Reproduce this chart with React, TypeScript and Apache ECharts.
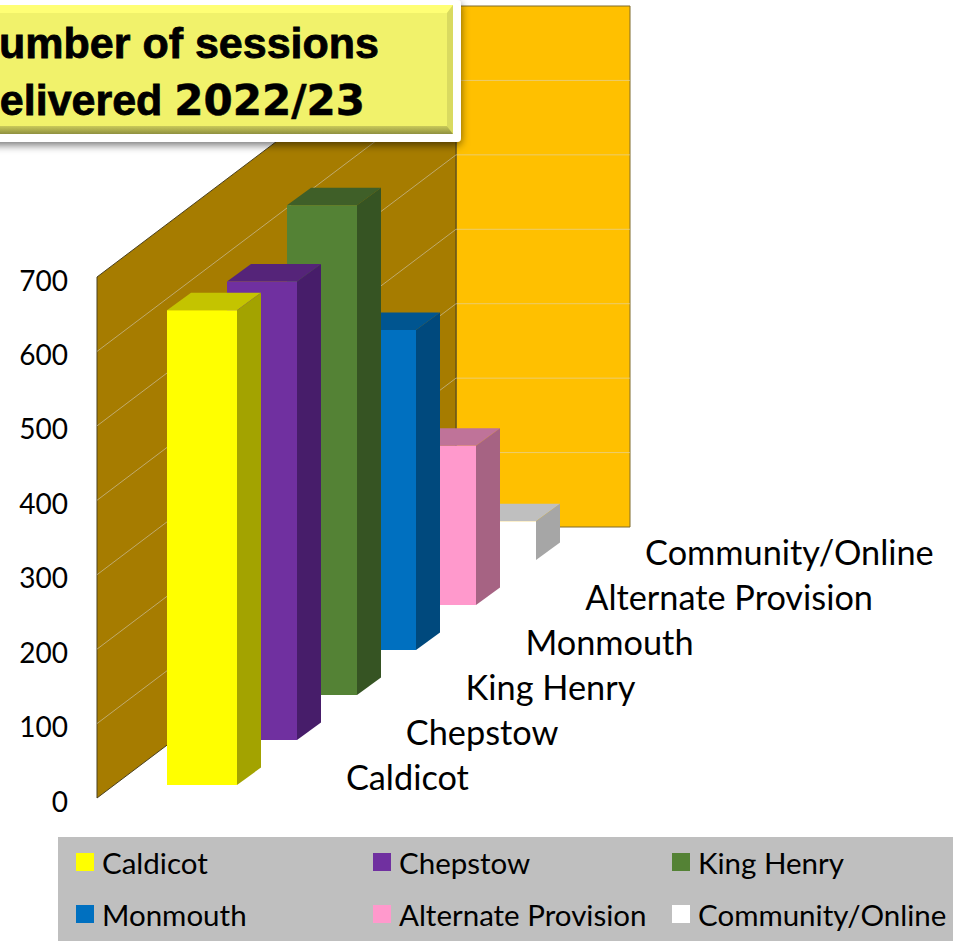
import React, { useEffect, useRef } from "react";
import * as echarts from "echarts";

// Sessions delivered per school, 2022/23
const categories = ["Caldicot", "Chepstow", "King Henry", "Monmouth", "Alternate Provision", "Community/Online"];
const sessions = [638, 616, 658, 430, 214, 52];
const barColors = ["#FFFF00", "#7030A0", "#548235", "#0070C0", "#FF99CC", "#FFFFFF"];
const barTopColors = ["#C4C400", "#552479", "#3F5F28", "#005590", "#BF7399", "#BFBFBF"];
const barSideColors = ["#A3A300", "#471D6A", "#365423", "#00497D", "#A66383", "#A6A6A6"];
const yTicks = [100, 200, 300, 400, 500, 600];
const yMax = 700;
const titleFirstLine = "Number of sessions";
const titleSecondLine = ["delivered", "2022/23"];

// Oblique projection used for the fake 3D box
const WALL_DX = 359;
const WALL_DY = -271;
const STEP_DY = -45;
const BAR_WIDTH = 70;
const DEPTH_DX = 24;
const DEPTH_DY = -17.5;
const BAR_SHIFT_X = 40;
const BAR_SHIFT_Y = -13;
const BACK_WALL_WIDTH = 174;

const FONT = "Lato";
const TITLE_FONT = "Liberation Sans";
const TITLE_DIGIT_FONT = "DejaVu Sans";

function renderWalls(params: any, api: any) {
  const left = params.coordSys.x;
  const y0 = api.coord([0, 0])[1];
  const yTop = api.coord([0, api.value(1)])[1];
  const bx = left + WALL_DX;
  return {
    type: "group",
    children: [
      {
        type: "polygon",
        shape: { points: [[bx, yTop + WALL_DY], [bx + BACK_WALL_WIDTH, yTop + WALL_DY], [bx + BACK_WALL_WIDTH, y0 + WALL_DY], [bx, y0 + WALL_DY]] },
        style: { fill: "#FFC000", stroke: "#7F6A2A", lineWidth: 1 },
      },
      {
        type: "polygon",
        shape: { points: [[left, yTop], [bx, yTop + WALL_DY], [bx, y0 + WALL_DY], [left, y0]] },
        style: { fill: "#A67C00", stroke: "#4A4020", lineWidth: 1 },
      },
    ],
  };
}

function renderGridline(params: any, api: any) {
  const left = params.coordSys.x;
  const y = api.coord([0, api.value(1)])[1];
  const bx = left + WALL_DX;
  return {
    type: "polyline",
    shape: { points: [[left, y], [bx, y + WALL_DY], [bx + BACK_WALL_WIDTH, y + WALL_DY]] },
    style: { fill: "none", stroke: "rgba(217,217,217,0.5)", lineWidth: 1 },
  };
}

function renderBar(index: number) {
  return (params: any, api: any) => {
    const base = api.coord([api.value(0), 0]);
    const top = api.coord([api.value(0), api.value(1)]);
    const x = Math.round(base[0] + BAR_SHIFT_X);
    const dy = BAR_SHIFT_Y + index * STEP_DY;
    const yb = base[1] + dy;
    const yt = top[1] + dy;
    const r = x + BAR_WIDTH;
    return {
      type: "group",
      children: [
        {
          type: "polygon",
          shape: { points: [[x, yt], [r, yt], [r + DEPTH_DX, yt + DEPTH_DY], [x + DEPTH_DX, yt + DEPTH_DY]] },
          style: { fill: barTopColors[index] },
        },
        {
          type: "polygon",
          shape: { points: [[r, yt], [r + DEPTH_DX, yt + DEPTH_DY], [r + DEPTH_DX, yb + DEPTH_DY], [r, yb]] },
          style: { fill: barSideColors[index] },
        },
        {
          type: "rect",
          shape: { x, y: yt, width: BAR_WIDTH, height: yb - yt },
          style: { fill: barColors[index] },
        },
      ],
    };
  };
}

// Category names sit on the floor, one step back per bar
function renderFloorLabel(params: any, api: any) {
  const i = api.value(0);
  const base = api.coord([i, 0]);
  return {
    type: "text",
    x: base[0] + 219,
    y: base[1] - 22 + i * STEP_DY,
    style: {
      text: categories[i],
      fontFamily: FONT,
      fontSize: 34.3,
      fill: "#000000",
      align: "left",
      verticalAlign: "middle",
    },
  };
}

const legendLefts = [76, 373, 672];
const legendTops = [847, 899];

export default function App() {
  const ref = useRef<HTMLDivElement>(null);

  useEffect(() => {
    if (!ref.current) return;
    const chart = echarts.init(ref.current, undefined, { renderer: "svg" });
    const barSeries = categories.map((name, i) => ({
      type: "custom" as const,
      name,
      renderItem: renderBar(i),
      encode: { x: 0, y: 1 },
      itemStyle: { color: barColors[i] },
      z: 20 - i,
      silent: true,
      data: [[i, sessions[i]]],
    }));
    chart.setOption({
      animation: false,
      backgroundColor: "#ffffff",
      grid: { left: 97, top: 277, height: 521, width: 359 },
      xAxis: { type: "category", data: categories, show: false },
      yAxis: {
        type: "value",
        min: 0,
        max: yMax,
        interval: 100,
        axisLine: { show: false },
        axisTick: { show: false },
        splitLine: { show: false },
        axisLabel: {
          margin: 29,
          formatter: (v: number) => `{t|${v}}`,
          rich: { t: { fontFamily: FONT, fontSize: 28, color: "#000000", padding: [5, 0, 0, 0] } },
        },
      },
      legend: categories.map((name, i) => ({
        data: [name],
        left: legendLefts[i % 3],
        top: legendTops[Math.floor(i / 3)],
        padding: 0,
        icon: "rect",
        itemWidth: 18,
        itemHeight: 18,
        selectedMode: false,
        z: 5,
        textStyle: { fontFamily: FONT, fontSize: 29.5, color: "#000000", padding: [0, 0, 4, 3] },
      })),
      graphic: [
        { type: "rect", z: 0, shape: { x: 58, y: 837, width: 895, height: 104 }, style: { fill: "#BFBFBF" } },
        {
          type: "rect",
          z: 50,
          shape: { x: -20, y: 0, width: 481, height: 142, r: 4 },
          style: { fill: "#ffffff", shadowBlur: 9, shadowOffsetY: 3, shadowColor: "rgba(0,0,0,0.55)" },
        },
        { type: "rect", z: 51, shape: { x: -20, y: 5, width: 473, height: 129 }, style: { fill: "#F1F26B" } },
        { type: "polygon", z: 52, shape: { points: [[-20, 5], [453, 5], [447, 13], [-20, 13]] }, style: { fill: "#FFFF75" } },
        { type: "polygon", z: 52, shape: { points: [[453, 5], [453, 134], [447, 126], [447, 13]] }, style: { fill: "#D9DA60" } },
        {
          type: "polygon",
          z: 52,
          shape: { points: [[-20, 134], [453, 134], [447, 126], [-20, 126]] },
          style: { fill: new echarts.graphic.LinearGradient(0, 0, 0, 1, [{ offset: 0, color: "#C9CA5A" }, { offset: 1, color: "#8F9040" }]) },
        },
        {
          type: "text",
          z: 53,
          x: 379,
          y: 43,
          style: { text: titleFirstLine, fontFamily: TITLE_FONT, fontWeight: "bold", fontSize: 43, fill: "#000", stroke: "#000", lineWidth: 0.8, align: "right", verticalAlign: "middle" },
        },
        {
          type: "text",
          z: 53,
          x: 365,
          y: 100,
          style: {
            text: `{w|${titleSecondLine[0]} }{d|${titleSecondLine[1]}}`,
            align: "right",
            verticalAlign: "middle",
            rich: {
              w: { fontFamily: TITLE_FONT, fontWeight: "bold", fontSize: 43, fill: "#000", stroke: "#000", lineWidth: 0.8 },
              d: { fontFamily: TITLE_DIGIT_FONT, fontWeight: "bold", fontSize: 42, fill: "#000", stroke: "#000", lineWidth: 0.5 },
            },
          },
        },
      ],
      series: [
        { type: "custom", name: "walls", renderItem: renderWalls, encode: { x: 0, y: 1 }, z: 1, silent: true, data: [[0, yMax]] },
        { type: "custom", name: "gridlines", renderItem: renderGridline, encode: { x: 0, y: 1 }, z: 2, silent: true, data: yTicks.map((v) => [0, v]) },
        ...barSeries,
        { type: "custom", name: "labels", renderItem: renderFloorLabel, encode: { x: 0, y: 1 }, z: 30, silent: true, data: categories.map((_, i) => [i, 0]) },
      ],
    });
    return () => chart.dispose();
  }, []);

  return <div ref={ref} style={{ position: "absolute", left: 0, top: 0, width: 974, height: 941 }} />;
}
